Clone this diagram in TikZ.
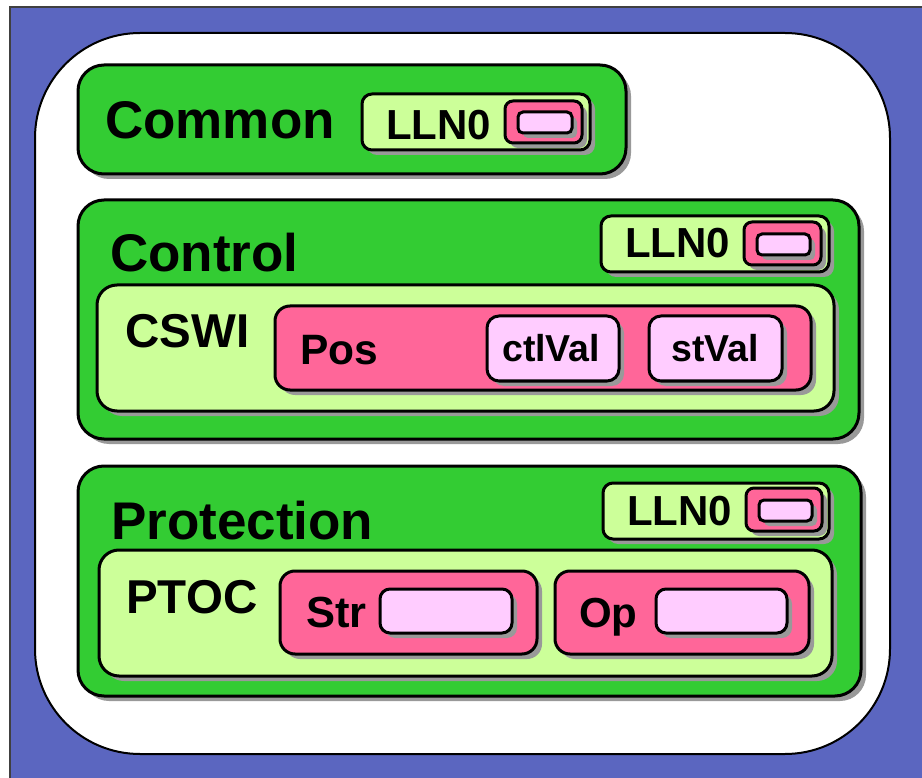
\documentclass[tikz,border=0pt]{standalone}
\usepackage{fontspec}
\setmainfont{Liberation Sans}
\usetikzlibrary{shadows,fit}

\definecolor{bgblue}{RGB}{91,102,192}
\definecolor{grpgreen}{RGB}{51,204,51}
\definecolor{lngreen}{RGB}{204,255,153}
\definecolor{dopink}{RGB}{255,102,153}
\definecolor{dalpink}{RGB}{255,204,255}
\definecolor{shade}{RGB}{153,153,153}

\tikzset{
  box/.style={draw=black, line width=3pt, inner sep=0pt, outer sep=0pt,
    rounded corners=#1,
    drop shadow={shadow xshift=5pt, shadow yshift=-5pt, fill=shade, opacity=1}},
  group/.style={box=26pt, fill=grpgreen},
  lnode/.style={box=#1, fill=lngreen},
  dobj/.style={box=#1, fill=dopink},
  dattr/.style={box=#1, fill=dalpink},
  lbl/.style={anchor=base west, inner sep=0pt, font=\bfseries\fontsize{#1}{#1}\selectfont},
}

\begin{document}
\begin{tikzpicture}[x=1pt, y=-1pt]
  \useasboundingbox (0,0) rectangle (922,778);

  % background panel and white frame
  \path[fill=bgblue, draw=black!75, line width=1.2pt] (10,7) rectangle (930,790);
  \path[fill=white, draw=black, line width=2pt, rounded corners=105pt] (35,33) rectangle (890,754);

  % Common group
  \node[group, fit={(78,65) (626,174)}] (common) {};
  \node[lnode=10pt, fit={(362,94) (590,150)}] (commonlln) {};
  \node[dobj=8pt, fit={(505,101) (582,143)}] (commonmod) {};
  \node[dattr=5pt, fit={(518,112) (572,133)}] (commonbeh) {};
  \node[lbl=53] (commonlabel) at (105,139) {Common};
  \node[lbl=42] (commonllnlabel) at (386,140) {LLN0};

  % Control group
  \node[group, fit={(78,200) (859,439)}] (control) {};
  \node[lnode=10pt, fit={(601,216) (829,272)}] (controllln) {};
  \node[dobj=8pt, fit={(744,222) (821,265)}] (controlmod) {};
  \node[dattr=5pt, fit={(757,234) (810,255)}] (controlbeh) {};
  \node[lbl=53] (controllabel) at (110,272) {Control};
  \node[lbl=42] (controllnlabel) at (625,258) {LLN0};
  \node[lnode=20pt, fit={(97,285) (834,411)}] (cswi) {};
  \node[lbl=47.5] (cswilabel) at (125,348) {CSWI};
  \node[dobj=15pt, fit={(275,306) (811,390)}] (pos) {};
  \node[lbl=42.5] (poslabel) at (300,365) {Pos};
  \node[dattr=12pt, fit={(487,316) (619,381)}] (ctlval) {};
  \node[lbl=37.5] (ctlvallabel) at (502,362) {ctlVal};
  \node[dattr=12pt, fit={(649,316) (782,381)}] (stval) {};
  \node[lbl=37.5] (stvallabel) at (671,362) {stVal};

  % Protection group
  \node[group, fit={(78,466) (861,696)}] (protection) {};
  \node[lnode=10pt, fit={(603,483) (829,539)}] (protlln) {};
  \node[dobj=8pt, fit={(746,488) (822,531)}] (protmod) {};
  \node[dattr=5pt, fit={(759,500) (812,521)}] (protbeh) {};
  \node[lbl=53] (protlabel) at (111,539) {Protection};
  \node[lbl=42] (protllnlabel) at (627,525) {LLN0};
  \node[lnode=20pt, fit={(99,550) (832,676)}] (ptoc) {};
  \node[lbl=47.5] (ptoclabel) at (126,613) {PTOC};
  \node[dobj=15pt, fit={(280,571) (537,654)}] (str) {};
  \node[lbl=43.5] (strlabel) at (306,627) {Str};
  \node[dattr=10pt, fit={(380,589) (512,633)}] (strval) {};
  \node[dobj=15pt, fit={(555,571) (809,654)}] (op) {};
  \node[lbl=42] (oplabel) at (579,627) {Op};
  \node[dattr=10pt, fit={(656,589) (787,633)}] (opval) {};
\end{tikzpicture}
\end{document}
